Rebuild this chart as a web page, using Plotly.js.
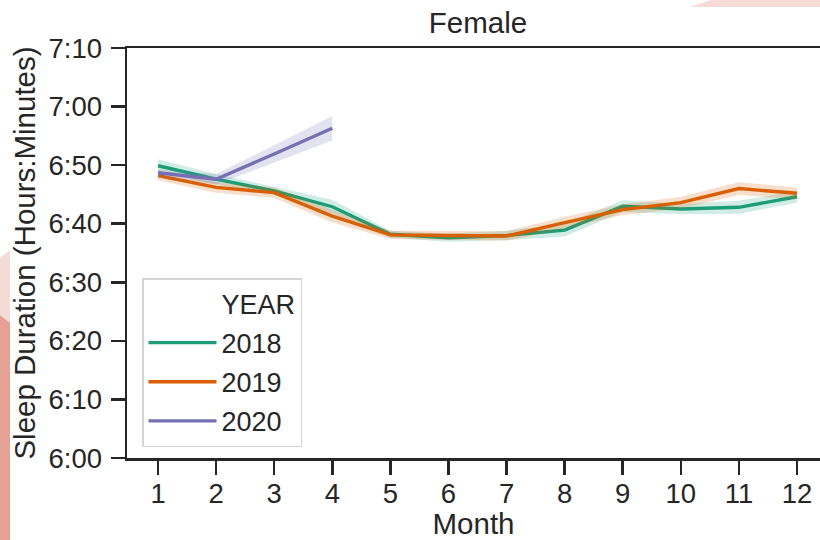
<!DOCTYPE html>
<html>
<head>
<meta charset="utf-8">
<script src="https://cdn.plot.ly/plotly-3.0.1.min.js"></script>
<style>
  html, body { margin: 0; padding: 0; background: #ffffff; }
  #wrap { position: relative; width: 820px; height: 540px; overflow: hidden; }
  #deco { position: absolute; left: 0; top: 0; }
  #chart { position: absolute; left: 0; top: 0; width: 820px; height: 540px; }
</style>
</head>
<body>
<div id="wrap">
  <svg id="deco" width="820" height="540">
    <polygon points="690,7 711,0 820,0 820,7" fill="#f6dad5"/>
    <polygon points="0,258 10,250 10,323 0,315" fill="#f4dcd6"/>
    <polygon points="0,315 10,323 10,540 0,540" fill="#e5a294"/>
  </svg>
  <div id="chart"></div>
</div>
<script>
// Mean nightly sleep (minutes after midnight) per month, women, by year,
// with the lower/upper edges of the 95% confidence band.
const months = [1, 2, 3, 4, 5, 6, 7, 8, 9, 10, 11, 12];
const months2020 = [1, 2, 3, 4];

const mean2018 = [409.9, 407.6, 405.6, 402.9, 398.2, 397.6, 398.0, 398.9, 403.0, 402.5, 402.8, 404.6];
const lo2018   = [408.9, 406.7, 404.9, 401.7, 397.6, 396.9, 397.2, 397.8, 402.0, 401.6, 401.7, 403.6];
const hi2018   = [411.0, 408.5, 406.3, 404.1, 398.8, 398.3, 398.8, 400.0, 404.0, 403.4, 403.9, 405.6];

const mean2019 = [408.2, 406.2, 405.3, 401.3, 398.1, 398.0, 397.9, 400.2, 402.4, 403.6, 406.0, 405.2];
const lo2019   = [407.4, 405.3, 404.4, 400.2, 397.4, 397.2, 397.1, 399.2, 401.5, 402.6, 404.9, 404.2];
const hi2019   = [409.0, 407.1, 406.2, 402.4, 398.8, 398.8, 398.7, 401.2, 403.3, 404.6, 407.1, 406.2];

const mean2020 = [408.7, 407.6, 411.9, 416.3];
const lo2020   = [408.1, 406.7, 410.4, 414.2];
const hi2020   = [409.3, 408.5, 413.4, 418.4];

const yearNames = ['2018', '2019', '2020'];
const yTickVals = [360, 370, 380, 390, 400, 410, 420, 430];
const yTickText = ['6:00', '6:10', '6:20', '6:30', '6:40', '6:50', '7:00', '7:10'];

const colors = ['#1b9e77', '#d95f02', '#7570b3'];
const bandColors = ['rgba(27,158,119,0.2)', 'rgba(217,95,2,0.2)', 'rgba(117,112,179,0.2)'];
const ink = '#262626';
const FONT = '"Liberation Sans", Arial, Helvetica, sans-serif';
const TICK_SIZE = 27.5;
const LABEL_SIZE = 29.5;

const series = [
  { x: months, mean: mean2018, lo: lo2018, hi: hi2018 },
  { x: months, mean: mean2019, lo: lo2019, hi: hi2019 },
  { x: months2020, mean: mean2020, lo: lo2020, hi: hi2020 }
];

// Invisible entry that carries the legend heading, seaborn style
const traces = [{
  x: [null], y: [null], type: 'scatter', mode: 'lines',
  name: 'YEAR', legendgroup: 'head',
  line: { color: 'rgba(0,0,0,0)', width: 3 },
  hoverinfo: 'skip'
}];

series.forEach((s, i) => {
  // closed polygon: upper edge forward, lower edge backward
  traces.push({
    x: s.x.concat(s.x.slice().reverse()),
    y: s.hi.concat(s.lo.slice().reverse()),
    type: 'scatter', mode: 'lines', fill: 'toself',
    fillcolor: bandColors[i], line: { width: 0, color: bandColors[i] },
    legendgroup: yearNames[i], showlegend: false, hoverinfo: 'skip'
  });
  traces.push({
    x: s.x, y: s.mean, type: 'scatter', mode: 'lines',
    name: yearNames[i], legendgroup: yearNames[i],
    line: { color: colors[i], width: 3.4 }
  });
});

const layout = {
  width: 820, height: 540,
  margin: { l: 127, r: 0, t: 48, b: 82, pad: 0 },
  paper_bgcolor: 'rgba(0,0,0,0)',
  plot_bgcolor: '#ffffff',
  font: { family: FONT, color: ink, size: TICK_SIZE },
  title: {
    text: 'Female', font: { family: FONT, size: LABEL_SIZE, color: ink },
    x: 478 / 820, xref: 'container', xanchor: 'center',
    y: 1 - 23 / 540, yref: 'container', yanchor: 'middle'
  },
  xaxis: {
    range: [0.466, 12.396],
    tickvals: months, ticktext: months.map(String),
    ticks: 'outside', ticklen: 14, tickwidth: 2.5, tickcolor: ink,
    showline: true, linewidth: 2.5, linecolor: ink, mirror: true,
    showgrid: false, zeroline: false,
    tickfont: { family: FONT, size: TICK_SIZE, color: ink },
    ticklabelstandoff: -5,
    title: { text: 'Month', font: { family: FONT, size: LABEL_SIZE, color: ink }, standoff: 6 }
  },
  yaxis: {
    range: [360, 430],
    tickvals: yTickVals, ticktext: yTickText,
    ticks: 'outside', ticklen: 14, tickwidth: 2.5, tickcolor: ink,
    showline: true, linewidth: 2.5, linecolor: ink,
    showgrid: false, zeroline: false,
    tickfont: { family: FONT, size: TICK_SIZE, color: ink },
    ticklabelstandoff: 3,
    title: { text: 'Sleep Duration (Hours:Minutes)', font: { family: FONT, size: LABEL_SIZE, color: ink }, standoff: 4 }
  },
  showlegend: true,
  legend: {
    x: (142 - 127) / 693, y: 0.439,
    xanchor: 'left', yanchor: 'top',
    bgcolor: '#ffffff', bordercolor: '#d4d4d4', borderwidth: 1.5,
    font: { family: FONT, size: 27, color: ink },
    traceorder: 'grouped', tracegroupgap: 1,
    itemwidth: 68, entrywidth: 85
  }
};

Plotly.newPlot('chart', traces, layout, { displayModeBar: false, staticPlot: true });
</script>
</body>
</html>
